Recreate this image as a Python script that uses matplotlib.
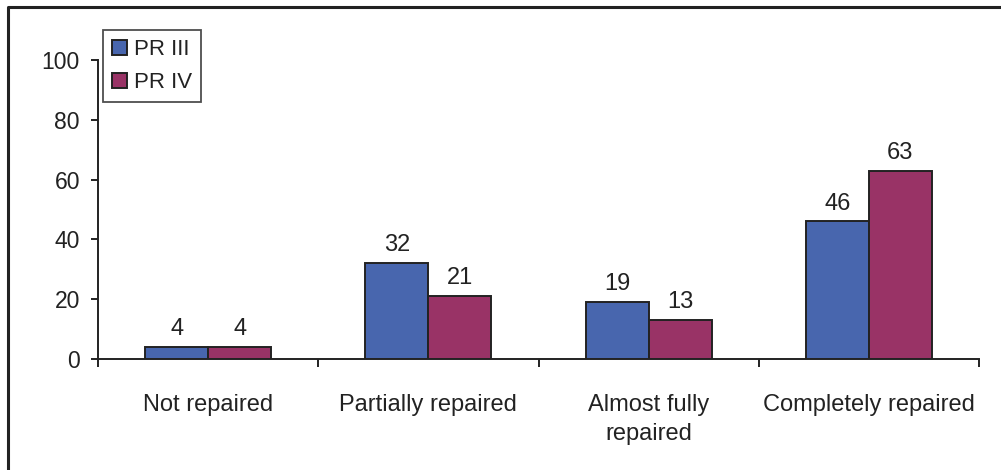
import numpy as np
import matplotlib.pyplot as plt
from matplotlib.lines import Line2D

plt.rcParams['font.family'] = ['Liberation Sans', 'DejaVu Sans']

categories = ['Not repaired', 'Partially repaired', 'Almost fully\nrepaired', 'Completely repaired']
pr3 = [4, 32, 19, 46]
pr4 = [4, 21, 13, 63]
series_names = ['PR III', 'PR IV']

blue = '#4866AE'
plum = '#993366'
dark = '#222222'

fig = plt.figure(figsize=(10.01, 4.70), dpi=100)
ax = fig.add_axes([98 / 1001, 1 - 359 / 470, 881 / 1001, 299 / 470])

x = np.arange(len(categories))
w = 0.286
b1 = ax.bar(x - w / 2, pr3, width=w, color=blue, edgecolor=dark, linewidth=1.4, label=series_names[0], zorder=3)
b2 = ax.bar(x + w / 2, pr4, width=w, color=plum, edgecolor=dark, linewidth=1.4, label=series_names[1], zorder=3)

for bars, vals in ((b1, pr3), (b2, pr4)):
    for rect, v in zip(bars, vals):
        ax.annotate(str(v), (rect.get_x() + rect.get_width() / 2, rect.get_height()),
                    xytext=(0, 5), textcoords='offset points', ha='center', va='bottom',
                    fontsize=17, color=dark)

ax.set_xlim(-0.5, len(categories) - 0.5)
ax.set_ylim(0, 100)
ax.set_yticks([0, 20, 40, 60, 80, 100])
ax.tick_params(axis='y', direction='out', length=5, width=1.4, color=dark,
               labelsize=16.5, labelcolor=dark, pad=8)

ax.set_xticks(x)
ax.set_xticklabels(categories, fontsize=17, color=dark, linespacing=1.4)
ax.tick_params(axis='x', which='major', length=0, pad=25)
ax.set_xticks(np.arange(-0.5, len(categories)), minor=True)
ax.tick_params(axis='x', which='minor', direction='out', length=6, width=1.4, color=dark)

for s in ('top', 'right'):
    ax.spines[s].set_visible(False)
for s in ('left', 'bottom'):
    ax.spines[s].set_linewidth(1.4)
    ax.spines[s].set_color(dark)

leg = ax.legend(loc='upper left', bbox_to_anchor=(0.006, 1.1), fontsize=16,
                frameon=True, fancybox=False, shadow=False, edgecolor=dark,
                handlelength=0.65, handleheight=0.65, handletextpad=0.35,
                labelspacing=0.55, borderpad=0.4, borderaxespad=0)
leg.get_frame().set_linewidth(1.3)
for t in leg.get_texts():
    t.set_color(dark)

# outer frame (only top and left edges are visible in the crop)
fig.add_artist(Line2D([8 / 1001, 8 / 1001, 1.0], [0.0, 1 - 7 / 470, 1 - 7 / 470],
                      transform=fig.transFigure, color=dark, linewidth=2.2))

fig.savefig('out.png', dpi=100)
